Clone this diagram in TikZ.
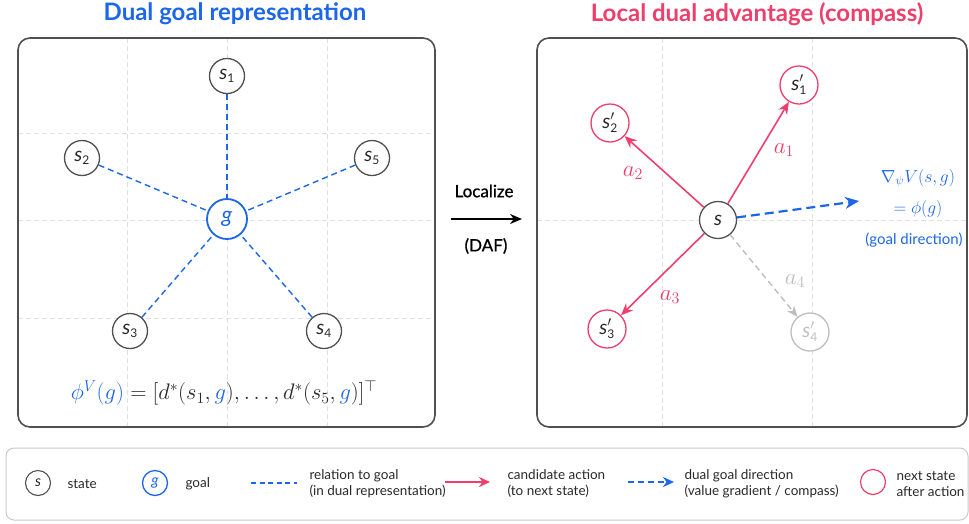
\RequirePackage{fix-cm}
\documentclass[tikz,border=0pt]{standalone}
\usepackage[no-math]{fontspec}
\setmainfont{Lato}
\newfontfamily\medfont[FakeBold=0.8]{Lato}
\usetikzlibrary{arrows.meta}
\definecolor{cblue}{RGB}{28,102,232}
\definecolor{cpink}{RGB}{238,62,108}
\definecolor{cdark}{RGB}{80,80,80}
\definecolor{ctext}{RGB}{40,40,40}
\definecolor{clight}{RGB}{190,190,190}
\definecolor{cgrid}{RGB}{225,225,225}
\definecolor{cleg}{RGB}{200,200,200}
\newcommand\lsub[1]{_{\mbox{\fontsize{12}{12}\selectfont #1}}}
\newcommand\st[1]{\textit{s}$\lsub{#1}$}
\newcommand\stp[1]{\textit{s}$^{\prime}\lsub{#1}$}
\tikzset{
  panel/.style={draw=cdark, line width=1.6pt, rounded corners=12pt},
  gridl/.style={draw=cgrid, line width=0.8pt, dash pattern=on 5pt off 3pt},
  state/.style={circle, draw=cdark, line width=1.3pt, fill=white, text=ctext, minimum size=35pt, inner sep=0pt, font=\fontsize{20}{20}\selectfont},
  goal/.style={circle, draw=cblue, line width=1.8pt, fill=white, minimum size=40pt, inner sep=0pt, text=cblue, font=\fontsize{22}{22}\selectfont},
  nxt/.style={state, draw=cpink},
  nxtgray/.style={state, draw=clight, text=clight},
  rel/.style={draw=cblue, line width=1.4pt, dash pattern=on 6pt off 4pt},
  act/.style={draw=cpink, line width=1.6pt, -{Stealth[length=12pt,width=10pt]}},
  actgray/.style={draw=clight, line width=1.4pt, dash pattern=on 6pt off 4pt, -{Stealth[length=11pt,width=9pt]}},
  dir/.style={draw=cblue, line width=2.2pt, dash pattern=on 9pt off 5pt, -{Stealth[length=14pt,width=12pt]}},
  title/.style={font=\fontsize{24}{28}\selectfont\bfseries},
  lab/.style={font=\fontsize{23}{23}\selectfont},
  legt/.style={font=\fontsize{13.5}{16}\selectfont, text=ctext, align=left, anchor=west},
  lstate/.style={circle, draw=cdark, text=ctext, line width=1.1pt, minimum size=25pt, inner sep=0pt, font=\fontsize{15}{15}\selectfont},
}
\begin{document}
\begin{tikzpicture}[x=1pt,y=-1pt]
\useasboundingbox (0,0) rectangle (969,523);
% titles
\node[title, text=cblue] (t1) at (235,14) {Dual goal representation};
\node[title, text=cpink] (t2) at (757,14) {Local dual advantage (compass)};
% left panel grid
\foreach \x in {127,227,327} \draw[gridl] (\x,38) -- (\x,427);
\foreach \y in {133,220,318} \draw[gridl] (18,\y) -- (435,\y);
\draw[panel] (18,38) rectangle (435,427);
% left nodes
\node[goal] (g) at (227,219) {\textit{g}};
\node[state] (s1) at (227,76) {\st{1}};
\node[state] (s2) at (82,158) {\st{2}};
\node[state] (s5) at (372,158) {\st{5}};
\node[state] (s3) at (130,331) {\st{3}};
\node[state] (s4) at (324,331) {\st{4}};
\foreach \n in {s1,s2,s3,s4,s5} \draw[rel] (\n) -- (g);
\node[text=ctext] (formula) at (224,393) {\fontsize{22.5}{26}\selectfont $\color{cblue}\phi^V(g)\color{ctext} = [d^*(s_1,{\color{cblue}g}),\ldots,d^*(s_5,{\color{cblue}g})]^\top$};
% localize arrow
\coordinate (la) at (451,219);
\coordinate (lb) at (522,219);
\draw[line width=1.8pt, -{Stealth[length=12pt,width=10pt]}] (la) -- (lb);
\node[font=\fontsize{17}{19}\selectfont\medfont] (loc) at (484,191) {Localize};
\node[font=\fontsize{17}{19}\selectfont\medfont] (daf) at (486,246) {(DAF)};
% right panel grid
\foreach \x in {662,812} \draw[gridl] (\x,38) -- (\x,427);
\draw[gridl] (537,220) -- (967,220);
\draw[panel] (537,38) rectangle (967,427);
% right nodes
\node[state, minimum size=37pt] (s) at (718,220) {\textit{s}};
\node[nxt, minimum size=38pt] (n1) at (799,85) {\stp{1}};
\node[nxt, minimum size=38pt] (n2) at (610,123) {\stp{2}};
\node[nxt, minimum size=38pt] (n3) at (607,329) {\stp{3}};
\node[nxtgray, minimum size=38pt] (n4) at (810,332) {\stp{4}};
\draw[act] (s) -- (n1);
\draw[act] (s) -- (n2);
\draw[act] (s) -- (n3);
\draw[actgray] (s) -- (n4);
\node[lab, text=cpink] (a1) at (784,150) {$a_1$};
\node[lab, text=cpink] (a2) at (633,173) {$a_2$};
\node[lab, text=cpink] (a3) at (670,297) {$a_3$};
\node[lab, text=clight] (a4) at (795,281) {$a_4$};
\coordinate (gd) at (859,201);
\draw[dir] (s) -- (gd);
\node[text=cblue, font=\fontsize{17.5}{20}\selectfont] (grad) at (918,178) {$\nabla_\psi V(s,g)$};
\node[text=cblue, font=\fontsize{17.5}{20}\selectfont] (phig) at (918,209) {$=\phi(g)$};
\node[text=cblue, font=\fontsize{15}{18}\selectfont] (gdir) at (914,240) {(goal direction)};
% legend
\draw[draw=cleg, line width=1pt, rounded corners=8pt] (6,448) rectangle (968,520);
\node[lstate] (ls) at (38,483) {\textit{s}};
\node[legt] (lst) at (64,484) {state};
\node[lstate, draw=cblue, text=cblue, line width=1.3pt] (lg) at (155,483) {\textit{g}};
\node[legt] (lgt) at (182,484) {goal};
\coordinate (lr1) at (251,483);
\coordinate (lr2) at (297,483);
\draw[rel, line width=1.2pt, dash pattern=on 5pt off 3.5pt] (lr1) -- (lr2);
\node[legt] (lrt) at (306,484) {relation to goal\\(in dual representation)};
\coordinate (lc1) at (445,482);
\coordinate (lc2) at (490,482);
\draw[act, line width=1.6pt, -{Stealth[length=11pt,width=10pt]}] (lc1) -- (lc2);
\node[legt] (lct) at (504,484) {candidate action\\(to next state)};
\coordinate (ld1) at (628,482);
\coordinate (ld2) at (674,482);
\draw[dir, line width=1.8pt, dash pattern=on 6pt off 4pt, -{Stealth[length=11pt,width=10pt]}] (ld1) -- (ld2);
\node[legt] (ldt) at (681,484) {dual goal direction\\(value gradient / compass)};
\node[lstate, draw=cpink, line width=1.2pt] (ln) at (873,482) {};
\node[legt] (lnt) at (893,484) {next state\\after action};
\end{tikzpicture}
\end{document}
